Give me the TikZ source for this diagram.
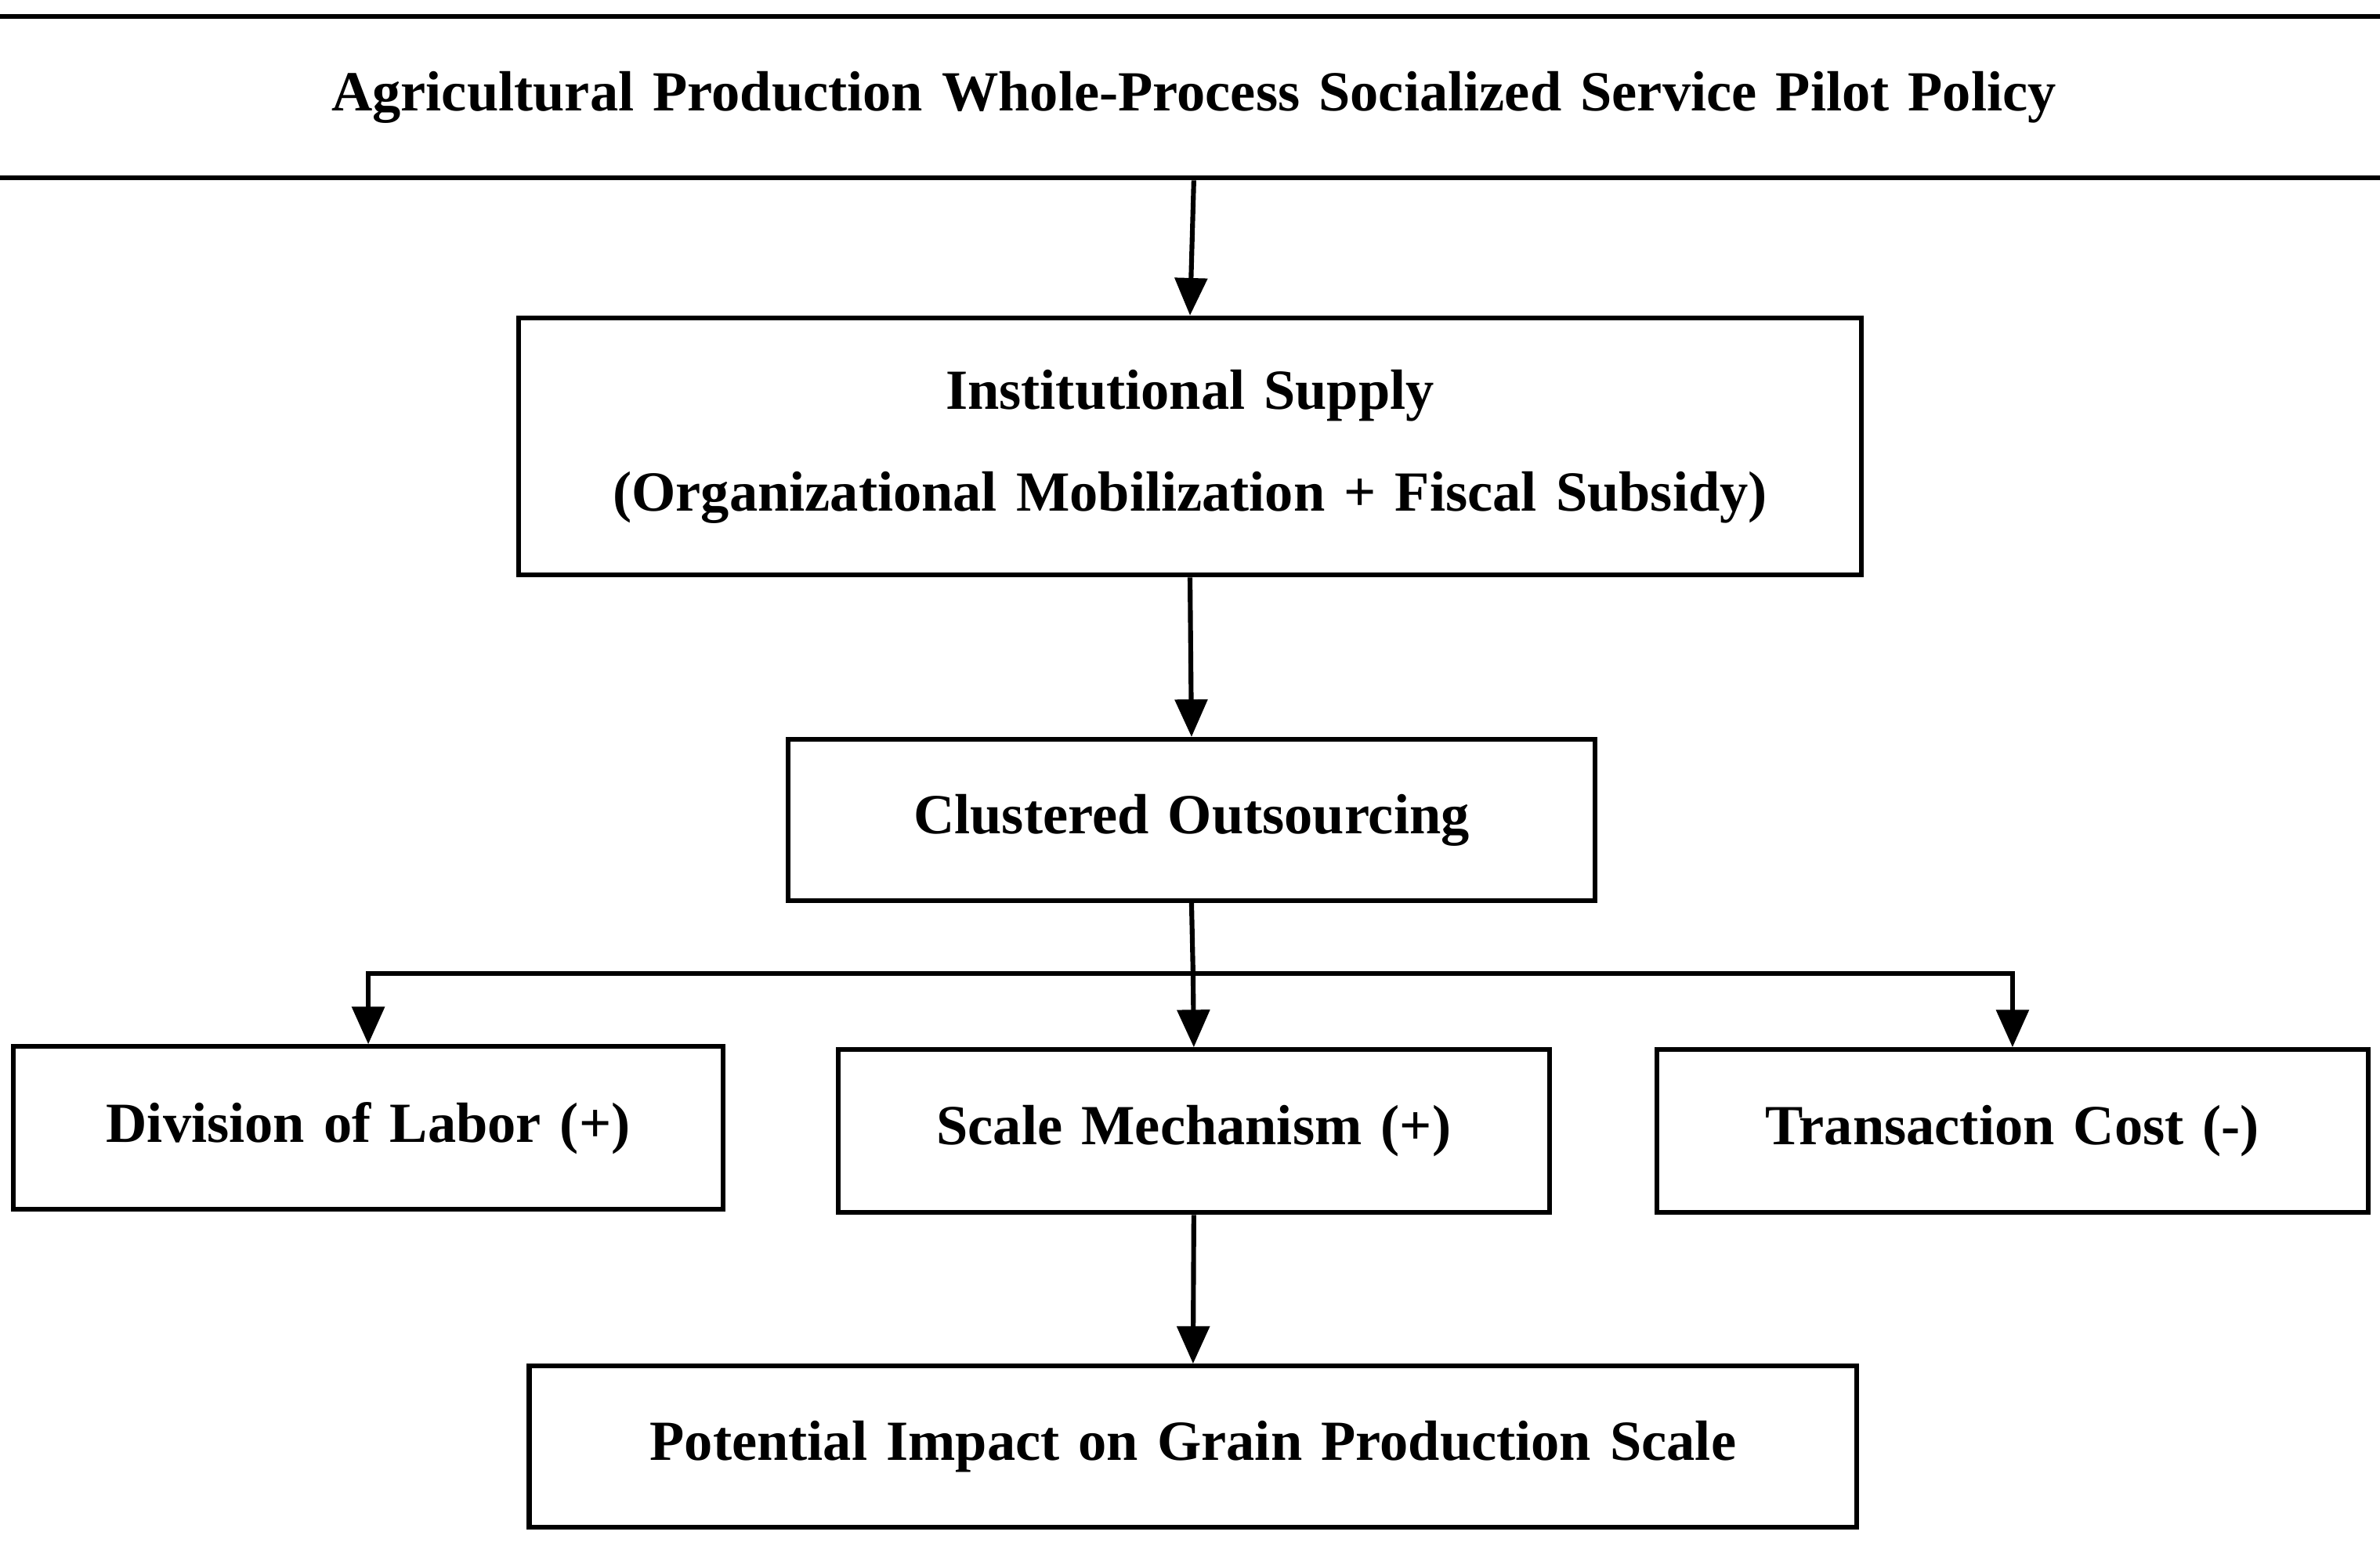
\documentclass[tikz,border=0pt]{standalone}
\usepackage{fontspec}
\setmainfont{Liberation Serif}
\usetikzlibrary{positioning,arrows.meta}

\begin{document}
\begin{tikzpicture}[x=0.01cm,y=-0.01cm,
    box/.style={draw, line width=0.9pt, font=\fontsize{10.6}{19}\selectfont\bfseries, align=center, inner sep=0pt},
    arr/.style={-{Triangle[length=7pt,width=6pt]}, line width=0.9pt}]
    \useasboundingbox (0,0) rectangle (1564,1016);
    % Boxes
    \node[box, minimum width=1275\pgflinewidth, text width=12.75cm, minimum height=1.06cm] (policy) at (784.5,64) {Agricultural Production Whole-Process Socialized Service Pilot Policy};
    \node[box, text width=8.82cm, minimum height=1.69cm] (supply) at (782,293.5) {Institutional Supply\\(Organizational Mobilization + Fiscal Subsidy)};
    \node[box, text width=5.3cm, minimum height=1.06cm] (cluster) at (783,539) {Clustered Outsourcing};
    \node[box, text width=4.66cm, minimum height=1.07cm] (labor) at (242,741.5) {Division of Labor (+)};
    \node[box, text width=4.67cm, minimum height=1.07cm] (scale) at (784.5,743.5) {Scale Mechanism (+)};
    \node[box, text width=4.67cm, minimum height=1.07cm] (cost) at (1322.5,743.5) {Transaction Cost (-)};
    \node[box, text width=8.72cm, minimum height=1.06cm] (impact) at (784,951) {Potential Impact on Grain Production Scale};
    \coordinate (branch) at (784,640);

    % Connectors
    \draw[arr] (policy.south) -- (supply.north);
    \draw[arr] (supply.south) -- (cluster.north);
    \draw[line width=0.9pt] (cluster.south) -- (branch);
    \draw[arr] (branch) -| (labor.north);
    \draw[arr] (branch) -- (scale.north);
    \draw[arr] (branch) -| (cost.north);
    \draw[arr] (scale.south) -- (impact.north);
\end{tikzpicture}
\end{document}
